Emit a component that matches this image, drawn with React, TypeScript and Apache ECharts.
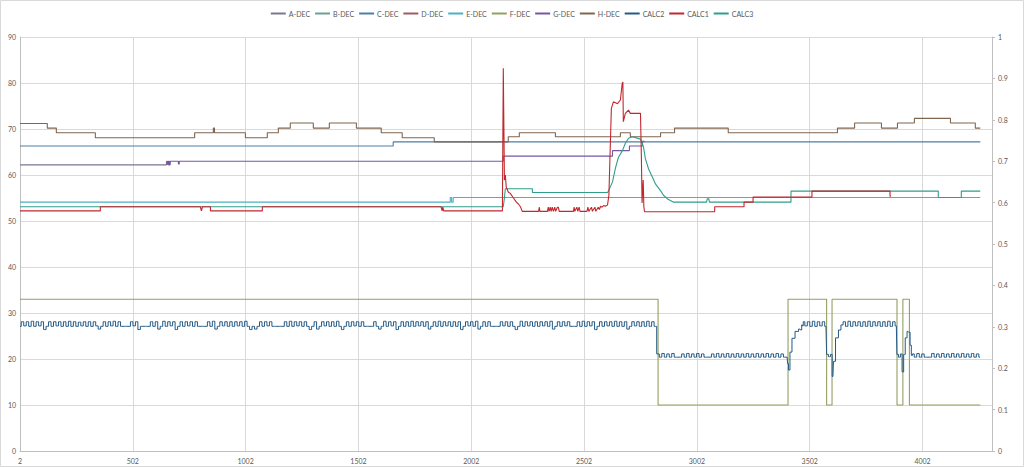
import React, { useEffect, useRef } from "react";
import * as echarts from "echarts";

// ---------- data (x = row index as shown on the category axis) ----------
const seriesNames = ["A-DEC", "B-DEC", "C-DEC", "D-DEC", "E-DEC", "F-DEC", "G-DEC", "H-DEC", "CALC2", "CALC1", "CALC3"];
const xFirst = 2;
const xLast = 4310;
const xTickStep = 500;
const dataEnd = 4258;

// step-wise series: [start index, value] change points
const hDec = [[2, 71.2], [123, 70.2], [163, 69.2], [336, 68.1], [776, 69.2], [859, 70.2], [864, 69.2], [1001, 68.1], [1098, 69.2], [1147, 70.2], [1200, 71.3], [1302, 70.2], [1373, 71.3], [1493, 70.2], [1603, 69.2], [1696, 68.1], [1838, 67.2], [2166, 68.3], [2215, 69.2], [2375, 68.3], [2663, 69.2], [2707, 68.3], [2841, 69.2], [2903, 70.2], [3141, 69.2], [3625, 70.2], [3701, 71.3], [3820, 70.2], [3891, 71.3], [3966, 72.3], [4126, 71.3], [4236, 70.2]];
const cDec = [[2, 66.3], [1656, 67.2]];
const eDec = [[2, 54.1], [1909, 55.1], [1915, 54.1], [1922, 55.1]];
const fDec = [[2, 33], [2830, 10], [3406, 33], [3577, 10], [3601, 33], [3889, 10], [3915, 33], [3944, 10]];
const aDec = [[2, 62.2], [651, 62.9], [660, 62.2]];
const aDecEnd = 668;
const gDec = [[651, 63], [655, 62.3], [660, 63], [664, 62.3], [668, 63], [700, 63], [704, 62.4], [708, 63], [2144, 64.1], [2628, 65.3], [2703, 66.3], [2761, 67.3]];
const gDecEnd = 2770;
const bDec: number[][] = [];
const dDec: number[][] = [];

// point-wise series: [index, value]
const calc1 = [[2, 52.2], [358, 52.2], [358, 53.1], [801, 53.1], [806, 52.2], [811, 53.1], [846, 53.1], [846, 52.2], [1076, 52.2], [1076, 53.1], [1868, 53.1], [1873, 52.2], [1876, 53], [1880, 52.2], [2140, 52.2], [2144, 83.2], [2149, 58.9], [2153, 60], [2157, 57.4], [2166, 56.3], [2175, 56], [2189, 55], [2202, 54.1], [2211, 53.7], [2220, 53.1], [2228, 52.1], [2300, 52.1], [2304, 53], [2306, 52.1], [2340, 52.1], [2343, 53], [2347, 52.1], [2352, 53], [2356, 52.1], [2361, 53], [2366, 52.1], [2372, 53], [2376, 52.1], [2384, 53], [2388, 53], [2392, 52.1], [2455, 52.1], [2458, 53], [2461, 52.1], [2470, 53], [2474, 52.1], [2480, 53], [2484, 52.1], [2515, 52.1], [2519, 53], [2523, 52.1], [2535, 53], [2539, 52.1], [2550, 53], [2554, 52.1], [2565, 53], [2570, 52.5], [2575, 53.2], [2582, 53], [2590, 53.4], [2597, 53.2], [2606, 53.5], [2612, 55.6], [2623, 74.5], [2632, 75.9], [2650, 75.5], [2663, 76.3], [2671, 79.9], [2674, 80.2], [2676, 71.6], [2685, 73.4], [2699, 74.1], [2707, 73.4], [2752, 73.4], [2756, 64], [2759, 53.9], [2764, 58.9], [2767, 53.1], [2770, 52], [3081, 52], [3081, 53.1], [3211, 53.1], [3211, 54.1], [3251, 54.1], [3251, 55.2], [3512, 55.2], [3512, 56.5], [3858, 56.5], [3858, 55.4], [3862, 55.4]];
const calc3 = [[2, 53.1], [2144, 53.1], [2149, 55], [2153, 57], [2273, 57], [2273, 56.2], [2606, 56.2], [2610, 56.5], [2628, 58.5], [2641, 61.5], [2654, 63.8], [2672, 65.3], [2685, 66.9], [2699, 68], [2716, 68.3], [2752, 67.8], [2765, 66.2], [2774, 63.5], [2788, 61.3], [2805, 59.5], [2819, 58], [2841, 56.6], [2854, 55.6], [2872, 54.8], [2899, 54.1], [3045, 54.1], [3048, 54.8], [3055, 54.8], [3058, 54.1], [3419, 54.1], [3419, 56.5], [4072, 56.5], [4072, 55.1], [4174, 55.1], [4174, 56.5], [4258, 56.5]];

// CALC2: noisy bands sampled at a fixed index step, plus transients
const calc2Step = 11;
const calc2Band1Start = 2;
const calc2Band1 = [
  27.1, 28.1, 27.2, 28.1, 27.1, 28.2, 27.1, 28.1, 27.2, 28.1,
  26.4, 27.1, 28.1, 27.1, 28.1, 27.2, 28.1, 27.1, 28.1, 27.1,
  28.2, 27.1, 28.1, 27.1, 28.0, 27.2, 28.1, 27.1, 28.1, 27.1,
  28.1, 27.2, 26.5, 27.1, 28.1, 27.1, 28.1, 27.2, 28.2, 27.1,
  28.1, 27.1, 27.1, 27.1, 27.1, 28.1, 27.2, 28.1, 26.4, 27.1,
  27.1, 27.1, 27.1, 28.1, 27.1, 28.1, 26.5, 27.1, 28.2, 27.1,
  28.1, 27.2, 28.1, 26.4, 27.1, 28.1, 27.1, 28.1, 27.2, 28.1,
  27.1, 28.1, 27.1, 27.1, 27.1, 27.1, 28.1, 27.1, 28.2, 26.5,
  27.1, 28.1, 27.2, 28.1, 27.1, 28.1, 27.1, 28.1, 27.2, 28.1,
  27.1, 28.2, 27.1, 26.4, 27.1, 26.5, 27.1, 28.1, 27.1, 28.1,
  27.2, 28.1, 27.1, 27.1, 27.1, 27.1, 27.1, 28.1, 27.1, 28.2,
  27.1, 28.1, 27.2, 28.1, 27.1, 28.1, 27.1, 26.4, 27.1, 28.1,
  26.5, 27.1, 28.1, 27.2, 28.1, 27.1, 28.1, 27.1, 28.2, 27.1,
  26.4, 27.1, 28.1, 27.1, 28.1, 27.2, 28.1, 27.1, 28.1, 27.1,
  27.1, 27.1, 27.1, 28.1, 27.1, 26.5, 27.1, 28.2, 27.1, 28.1,
  27.2, 28.1, 26.4, 27.1, 28.1, 27.1, 28.1, 27.1, 28.2, 27.1,
  28.1, 27.2, 28.1, 27.1, 28.1, 26.5, 27.1, 28.1, 27.1, 28.2,
  27.1, 28.1, 27.2, 28.1, 27.1, 28.1, 27.1, 28.1, 26.4, 27.1,
  28.1, 27.2, 28.1, 27.1, 28.2, 26.5, 27.1, 28.1, 27.1, 28.1,
  27.1, 27.1, 27.1, 27.1, 28.1, 27.2, 28.1, 27.1, 28.1, 27.1,
  26.4, 27.1, 28.2, 27.1, 28.1, 27.2, 28.1, 27.1, 28.1, 27.1,
  28.1, 27.2, 28.1, 27.1, 28.2, 26.5, 27.1, 28.1, 27.1, 28.1,
  27.2, 28.1, 27.1, 27.1, 27.1, 28.1, 27.1, 28.2, 27.1, 28.1,
  27.2, 28.1, 26.4, 27.1, 28.1, 27.1, 28.1, 27.2, 28.1, 27.1,
  28.2, 27.1, 28.1, 27.1, 28.1, 26.5, 27.1, 28.1, 27.2, 28.1,
  27.1, 28.1, 27.1, 28.2, 27.1, 28.1, 27.1,
];
const calc2Band2Start = 2830;
const calc2Band2 = [
  21.1, 20.4, 21.2, 20.4, 21.1, 20.4, 21.2, 20.4, 20.4, 20.4,
  21.1, 20.4, 21.2, 20.4, 21.1, 20.4, 21.2, 20.4, 21.1, 20.4,
  20.4, 20.4, 21.1, 20.4, 21.2, 20.4, 21.1, 20.4, 21.2, 20.4,
  21.1, 20.4, 21.2, 20.4, 21.1, 20.4, 21.2, 20.4, 21.1, 20.4,
  21.2, 20.4, 21.1, 20.4, 21.2, 20.4, 21.1, 20.4, 21.2, 20.4,
  21.1, 20.4,
];
const calc2Trans1 = [[3402, 20.4], [3406, 19], [3410, 17.6], [3419, 21.5], [3428, 24.5], [3446, 26], [3459, 26.5], [3465, 26.3], [3468, 27.4], [3472, 27.2]];
const calc2Band3Start = 3475;
const calc2Band3 = [28.1, 27.2, 28.1, 27.1, 28.2, 27.1, 28.1, 27.2, 28.1, 27.1];
const calc2Trans2 = [[3580, 21], [3590, 20.5], [3598, 21], [3605, 16.2], [3610, 19.5], [3623, 24.6], [3636, 26.3], [3645, 27.4]];
const calc2Band4Start = 3655;
const calc2Band4 = [28.1, 27.1, 28.2, 27.1, 28.1, 27.2, 28.1, 27.1, 28.1, 27.1, 28.2, 27.1, 28.1, 27.2, 28.1, 27.1, 28.1, 27.1, 28.2, 27.1, 28.1, 27.2];
const calc2Trans3 = [[3891, 21], [3900, 20.4], [3908, 21.1], [3915, 17.2], [3922, 21], [3929, 24.6], [3938, 26], [3944, 25.8], [3950, 23], [3955, 20.8]];
const calc2Band5Start = 3960;
const calc2Band5 = [21.1, 20.4, 21.2, 20.4, 21.1, 20.4, 20.4, 20.4, 21.2, 20.4, 21.1, 20.4, 21.2, 20.4, 21.1, 20.4, 21.2, 20.4, 21.1, 20.4, 21.2, 20.4, 21.1, 20.4, 21.2, 20.4, 21.1, 20.4];

const colors: Record<string, string> = {
  "A-DEC": "#7d7590",
  "B-DEC": "#6f9e96",
  "C-DEC": "#4d7fa6",
  "D-DEC": "#a05a62",
  "E-DEC": "#4bb0c4",
  "F-DEC": "#939f62",
  "G-DEC": "#7558a0",
  "H-DEC": "#7f6650",
  CALC2: "#245a86",
  CALC1: "#c0282e",
  CALC3: "#2f9e8a",
};

// ---------- helpers ----------
const sx = (i: number) => i - xFirst;
function stepPts(changes: number[][], end: number) {
  const out: number[][] = [];
  changes.forEach(([x, v], i) => {
    const nx = i + 1 < changes.length ? changes[i + 1][0] : end;
    out.push([sx(x), v], [sx(nx), v]);
  });
  return out;
}
const pts = (arr: number[][]) => arr.map(([x, v]) => [sx(x), v]);
const band = (start: number, vals: number[]) => vals.map((v, i) => [sx(start + i * calc2Step), v]);

export default function App() {
  const ref = useRef<HTMLDivElement>(null);
  useEffect(() => {
    document.body.style.margin = "0";
    const chart = echarts.init(ref.current!, undefined, { renderer: "svg" });
    const calc2 = [
      ...band(calc2Band1Start, calc2Band1),
      ...band(calc2Band2Start, calc2Band2),
      ...pts(calc2Trans1),
      ...band(calc2Band3Start, calc2Band3),
      ...pts(calc2Trans2),
      ...band(calc2Band4Start, calc2Band4),
      ...pts(calc2Trans3),
      ...band(calc2Band5Start, calc2Band5),
    ];
    const dataMap: Record<string, number[][]> = {
      "A-DEC": stepPts(aDec, aDecEnd),
      "B-DEC": pts(bDec),
      "C-DEC": stepPts(cDec, dataEnd),
      "D-DEC": pts(dDec),
      "E-DEC": stepPts(eDec, dataEnd),
      "F-DEC": stepPts(fDec, dataEnd),
      "G-DEC": stepPts(gDec, gDecEnd),
      "H-DEC": stepPts(hDec, dataEnd),
      CALC2: calc2,
      CALC1: pts(calc1),
      CALC3: pts(calc3),
    };
    const zMap: Record<string, number> = { CALC1: 4, CALC3: 3 };
    const stepMap: Record<string, string> = { CALC2: "middle" };
    const font = "Lato, 'Liberation Sans', sans-serif";
    const labelColor = "#595959";
    chart.setOption({
      animation: false,
      textStyle: { fontFamily: font },
      graphic: [
        { type: "rect", shape: { x: 0.5, y: 0.5, width: 1023, height: 466 }, style: { fill: "none", stroke: "#d9d9d9", lineWidth: 1 }, silent: true },
      ],
      legend: {
        data: seriesNames,
        top: 10,
        left: "center",
        icon: "rect",
        itemWidth: 15,
        itemHeight: 2,
        itemGap: 5,
        padding: 0,
        textStyle: { fontSize: 7, color: labelColor, fontFamily: font, padding: [0, 0, 0, -2] },
      },
      grid: { left: 20, right: 32, top: 37, bottom: 16, containLabel: false },
      xAxis: {
        type: "value",
        min: 0,
        max: xLast - xFirst,
        interval: xTickStep,
        axisLine: { show: true, lineStyle: { color: "#bfbfbf" } },
        axisTick: { show: false },
        splitLine: { show: true, lineStyle: { color: "#d9d9d9", width: 1 } },
        axisLabel: { fontSize: 7, color: labelColor, margin: 6, showMaxLabel: false, formatter: (v: number) => String(v + xFirst) },
      },
      yAxis: [
        {
          type: "value",
          min: 0,
          max: 90,
          interval: 10,
          axisLine: { show: true, lineStyle: { color: "#bfbfbf" } },
          axisTick: { show: false },
          splitLine: { show: true, lineStyle: { color: "#d9d9d9", width: 1 } },
          axisLabel: { fontSize: 7, color: labelColor, margin: 4 },
        },
        {
          type: "value",
          position: "right",
          min: 0,
          max: 1,
          interval: 0.1,
          axisLine: { show: true, lineStyle: { color: "#bfbfbf" } },
          axisTick: { show: true, length: 3, lineStyle: { color: "#bfbfbf" } },
          splitLine: { show: false },
          axisLabel: { fontSize: 7, color: labelColor, margin: 6 },
        },
      ],
      series: seriesNames.map((name) => ({
        name,
        type: "line",
        yAxisIndex: 0,
        data: dataMap[name],
        showSymbol: false,
        symbol: "none",
        step: stepMap[name] ?? false,
        z: zMap[name] ?? 2,
        lineStyle: { width: name === "CALC2" ? 1 : 1.1, color: colors[name] },
        itemStyle: { color: colors[name] },
        emphasis: { disabled: true },
      })),
    });
    return () => chart.dispose();
  }, []);
  return <div ref={ref} style={{ width: 1024, height: 467 }} />;
}
